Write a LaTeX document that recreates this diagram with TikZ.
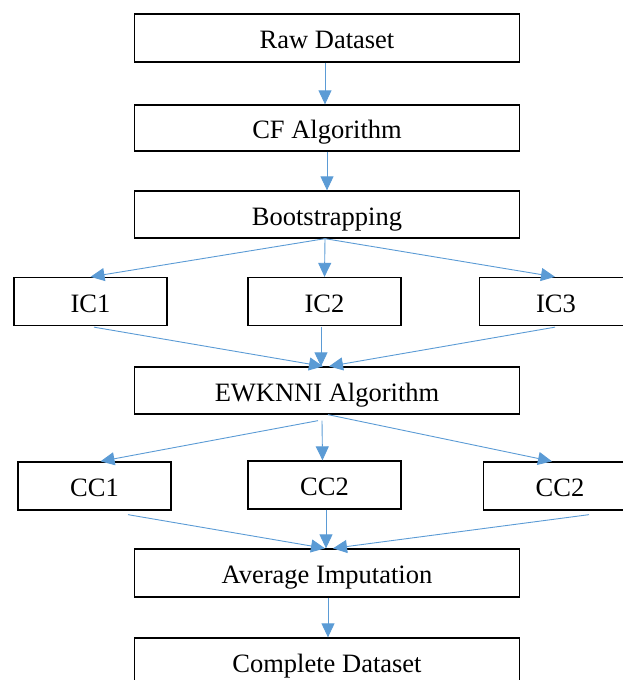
\documentclass[tikz,border=0pt]{standalone}
\usepackage{fontspec}
\setmainfont{Liberation Serif}
\usetikzlibrary{arrows.meta,calc}
\definecolor{arrowblue}{HTML}{5B9BD5}
\begin{document}
\begin{tikzpicture}[x=1pt,y=-1pt,
  box/.style={draw=black,line width=1.3pt,fill=white,inner sep=0pt,text height=21pt,text depth=0pt,font=\fontsize{26.5}{30}\selectfont},
  wide/.style={box,minimum width=385pt},
  small/.style={box,minimum width=153pt},
  conn/.style={draw=arrowblue,line width=0.9pt,-{Triangle[length=14pt,width=13pt]}}]
\useasboundingbox (0,0) rectangle (623,680);
\node[wide,minimum height=48pt] (raw) at (327,38) {Raw Dataset};
\node[wide,minimum height=46pt] (cf) at (327,128) {CF Algorithm};
\node[wide,minimum height=47pt] (boot) at (327,214.5) {Bootstrapping};
\node[small,minimum height=48pt] (ic1) at (90.5,301.5) {IC1};
\node[small,minimum height=48pt] (ic2) at (324.5,301.5) {IC2};
\node[small,minimum height=48pt] (ic3) at (556,301.5) {IC3};
\node[wide,minimum height=47pt] (ewk) at (327,390.5) {EWKNNI Algorithm};
\node[small,minimum height=48pt] (cc1) at (94.5,486) {CC1};
\node[small,minimum height=48pt] (cc2) at (324.5,485) {CC2};
\node[small,minimum height=48pt] (cc3) at (560,486) {CC2};
\node[wide,minimum height=48pt] (avg) at (327,573) {Average Imputation};
\node[wide,minimum height=48pt] (comp) at (327,662) {Complete Dataset};

\draw[conn] ($(raw.south)+(-2,0)$) -- ($(cf.north)+(-2,0)$);
\draw[conn] (cf.south) -- (boot.north);
\draw[conn] ($(boot.south)+(-2,0)$) -- (ic1.north);
\draw[conn] ($(boot.south)+(-2,0)$) -- (ic2.north);
\draw[conn] ($(boot.south)+(-2,0)$) -- ($(ic3.north)+(-1,0)$);
\draw[conn] ($(ic1.south)+(3.5,1)$) -- ($(ewk.north)+(-4,0)$);
\draw[conn] ($(ic2.south)+(-3.5,1)$) -- ($(ewk.north)+(-6,0)$);
\draw[conn] ($(ic3.south)+(-1,1)$) -- ($(ewk.north)+(2,0)$);
\draw[conn] ($(ewk.south)+(-9,6)$) -- ($(cc1.north)+(6,0)$);
\draw[conn] ($(ewk.south)+(-5,6)$) -- ($(cc2.north)+(-2,0)$);
\draw[conn] ($(ewk.south)+(1,0)$) -- ($(cc3.north)+(-8,0)$);
\draw[conn] ($(cc1.south)+(33.5,4)$) -- ($(avg.north)+(-2,0)$);
\draw[conn] ($(cc2.south)+(1.5,0)$) -- ($(avg.north)+(-1,0)$);
\draw[conn] ($(cc3.south)+(29,4)$) -- ($(avg.north)+(6,0)$);
\draw[conn] ($(avg.south)+(1,0)$) -- ($(comp.north)+(1,0)$);
\end{tikzpicture}
\end{document}
